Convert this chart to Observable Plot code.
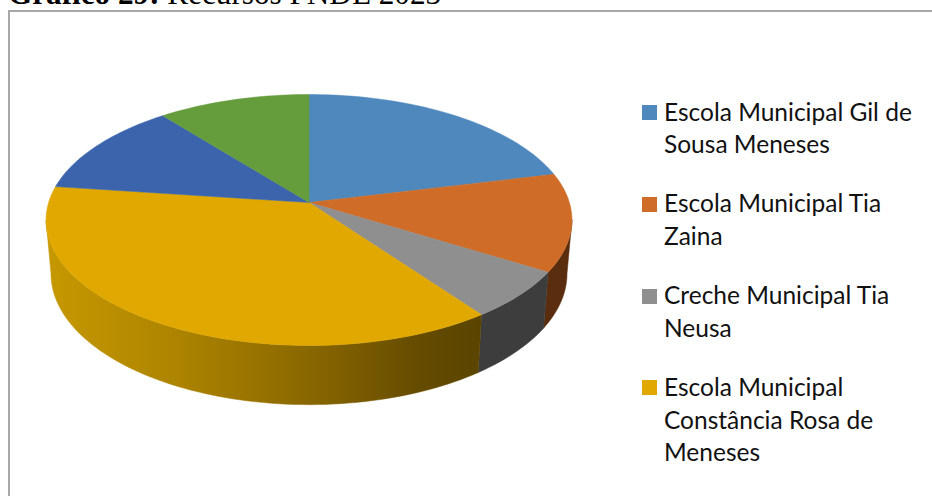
<!DOCTYPE html>
<html lang="pt">
<head>
<meta charset="utf-8">
<script src="https://cdn.jsdelivr.net/npm/d3@7"></script>
<script src="https://cdn.jsdelivr.net/npm/@observablehq/plot@0.6"></script>
<style>
  html, body { margin: 0; padding: 0; background: #fff; width: 932px; height: 496px; overflow: hidden; }
  #wrap { position: relative; width: 932px; height: 496px; overflow: hidden; }
  #wrap svg { position: absolute; left: 0; top: 0; background: none; }
  #title { position: absolute; left: 8px; top: -18.5px; font: 31.2px/24px "Liberation Serif", serif; color: #000; white-space: nowrap; }
  #frame { position: absolute; left: 8px; top: 10px; right: -10px; bottom: -10px; border: 2px solid #a8a8a8; }
  #legend { position: absolute; left: 642px; top: 95.5px; width: 275px; font: 24.5px/32.7px Lato, sans-serif; color: #111; z-index: 2; }
  .item { position: relative; padding-left: 22px; margin-bottom: 26.4px; }
  .swatch { position: absolute; left: 0; top: 9.5px; width: 15px; height: 15px; }
</style>
</head>
<body>
<div id="wrap">
  <div id="frame"></div>
  <div id="title"><b>Gráfico 29:</b> Recursos PNDE 2023</div>
  <div id="legend"></div>
</div>
<script>
// Data (share of the pie, percent, clockwise from 12 o'clock)
const shares = [21.2, 12.6, 6.2, 37.1, 12.2, 10.7];
const topColors = ["#4f88bd", "#cf6d28", "#8f8f8f", "#e0a800", "#3b64ad", "#659c3c"];
const sideColors = ["#2c5070", "#5a2d0e", "#3d3d3d", "url(#goldSide)", "#22396a", "#3b5c23"];
const legendNames = [
  "Escola Municipal Gil de Sousa Meneses",
  "Escola Municipal Tia Zaina",
  "Creche Municipal Tia Neusa",
  "Escola Municipal Constância Rosa de Meneses"
];

// Perspective of the tilted disc: top face and bottom face
const persp = 0.1394;
const cx = 308.5;
const faces = {
  top: {R: 260.4, a: -94.9, b: 202},
  bottom: {R: 255.5, a: -93, b: 254.8}
};
function project(deg, face) {
  const t = deg * Math.PI / 180, u = Math.sin(t), v = Math.cos(t), w = 1 + persp * v;
  return {x: cx + face.R * u / w, y: (face.a * v + face.b) / w};
}
function arc(a0, a1) {
  const n = Math.max(2, Math.ceil((a1 - a0) / 1.5));
  return d3.range(n + 1).map(i => a0 + (a1 - a0) * i / n);
}

const total = d3.sum(shares);
let acc = 0;
const slices = shares.map((s, i) => {
  const a0 = acc / total * 360;
  acc += s;
  return {a0, a1: acc / total * 360, top: topColors[i], side: sideColors[i]};
});

// Only the front of the wall is visible: between the two silhouette angles
const silhouetteR = Math.acos(-persp) * 180 / Math.PI;
const silhouetteL = 360 - silhouetteR;
const sideMarks = slices
  .map(s => ({...s, from: Math.max(s.a0, silhouetteR), to: Math.min(s.a1, silhouetteL)}))
  .filter(s => s.from < s.to)
  .map(s => {
    const angles = arc(s.from, s.to);
    const pts = [
      ...angles.map(a => project(a, faces.top)),
      ...angles.slice().reverse().map(a => project(a, faces.bottom))
    ];
    pts.push(pts[0]);
    return Plot.line(pts, {x: "x", y: "y", fill: s.side, stroke: s.side, strokeWidth: 0.5});
  });
// The narrow part of the orange wall behind its silhouette is hidden by the top face
const topMarks = slices.map(s => {
  const pts = [
    {x: cx, y: faces.top.b},
    ...arc(s.a0, s.a1).map(a => project(a, faces.top)),
    {x: cx, y: faces.top.b}
  ];
  return Plot.line(pts, {x: "x", y: "y", fill: s.top, stroke: s.top, strokeWidth: 0.5});
});

function gradient() {
  const svgNS = "http://www.w3.org/2000/svg";
  const defs = document.createElementNS(svgNS, "defs");
  const g = document.createElementNS(svgNS, "linearGradient");
  g.setAttribute("id", "goldSide");
  g.setAttribute("gradientUnits", "userSpaceOnUse");
  g.setAttribute("x1", 46); g.setAttribute("x2", 480);
  g.setAttribute("y1", 0); g.setAttribute("y2", 0);
  [[0, "#c69800"], [0.3, "#ad8400"], [0.6, "#8a6800"], [0.85, "#664c00"], [1, "#5a4400"]].forEach(([o, c]) => {
    const st = document.createElementNS(svgNS, "stop");
    st.setAttribute("offset", o); st.setAttribute("stop-color", c);
    g.appendChild(st);
  });
  defs.appendChild(g);
  return defs;
}

const chart = Plot.plot({
  width: 932,
  height: 496,
  margin: 0,
  x: {domain: [0, 932], range: [0, 932], axis: null},
  y: {domain: [0, 496], range: [0, 496], axis: null},
  style: {background: "none"},
  marks: [gradient, ...sideMarks, ...topMarks]
});
document.getElementById("wrap").appendChild(chart);

const legend = d3.select("#legend");
legendNames.forEach((name, i) => {
  const item = legend.append("div").attr("class", "item");
  item.append("span").attr("class", "swatch").style("background", topColors[i]);
  item.append("span").text(name);
});
</script>
</body>
</html>
